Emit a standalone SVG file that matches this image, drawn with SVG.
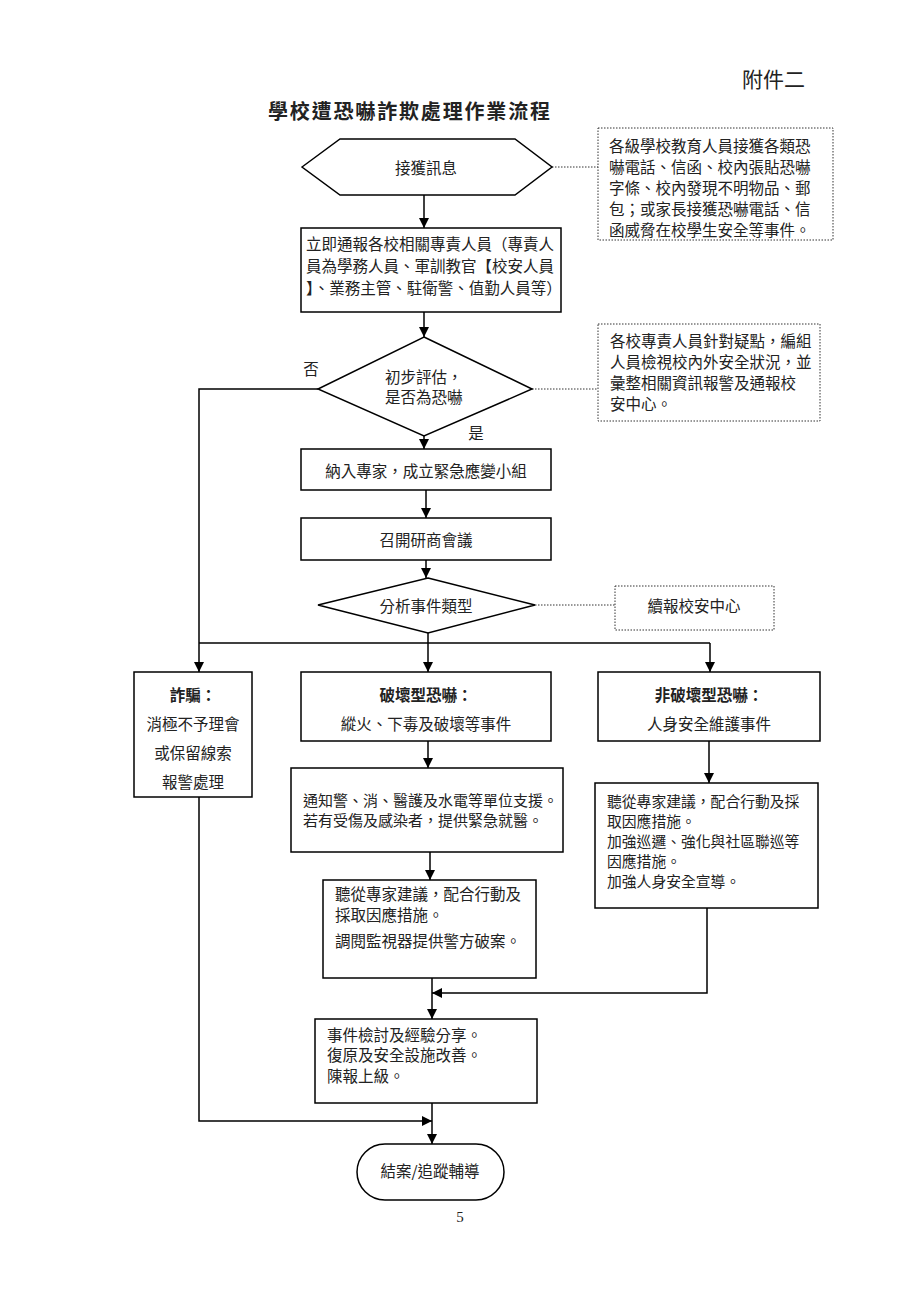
<svg xmlns="http://www.w3.org/2000/svg" width="920" height="1302" viewBox="0 0 920 1302">
<style>
text{font-family:"Noto Sans CJK TC","Noto Sans CJK SC",sans-serif;fill:#222;font-size:15.5px;dominant-baseline:central}
.c{text-anchor:middle}
.b{font-weight:bold}
.s{font-size:14.8px}
.box{fill:#fff;stroke:#000;stroke-width:1.5}
.note{fill:#fff;stroke:#333;stroke-width:1;stroke-dasharray:1.5 1.5}
.ln{fill:none;stroke:#000;stroke-width:1.5}
.dl{fill:none;stroke:#333;stroke-width:1;stroke-dasharray:1.5 1.5}
</style>
<defs>
<marker id="ah" viewBox="0 0 10 10" refX="10" refY="5" markerWidth="10" markerHeight="10" markerUnits="userSpaceOnUse" orient="auto">
<path d="M0,0 L10,5 L0,10 z" fill="#000"/>
</marker>
</defs>
<rect width="920" height="1302" fill="#fff"/>
<text x="805" y="78" style="font-size:21px;text-anchor:end">附件二</text>
<text x="268" y="110" class="b" style="font-size:20px" textLength="282" lengthAdjust="spacing">學校遭恐嚇詐欺處理作業流程</text>

<g id="connectors">
<line class="dl" x1="552" y1="167" x2="598" y2="167"/>
<line class="dl" x1="532" y1="389" x2="598" y2="389"/>
<line class="dl" x1="535" y1="605" x2="615" y2="605"/>
<line class="ln" x1="424" y1="195" x2="424" y2="228" marker-end="url(#ah)"/>
<line class="ln" x1="424" y1="312" x2="424" y2="337" marker-end="url(#ah)"/>
<line class="ln" x1="424" y1="436" x2="424" y2="449" marker-end="url(#ah)"/>
<polyline class="ln" points="318,389 199,389 199,643"/>
<line class="ln" x1="426" y1="490" x2="426" y2="518" marker-end="url(#ah)"/>
<line class="ln" x1="426" y1="560" x2="426" y2="578" marker-end="url(#ah)"/>
<line class="ln" x1="428" y1="633" x2="428" y2="643"/>
<line class="ln" x1="199" y1="643" x2="710" y2="643"/>
<line class="ln" x1="199" y1="643" x2="199" y2="672" marker-end="url(#ah)"/>
<line class="ln" x1="428" y1="643" x2="428" y2="672" marker-end="url(#ah)"/>
<line class="ln" x1="710" y1="643" x2="710" y2="672" marker-end="url(#ah)"/>
<polyline class="ln" points="199,797 199,1121 432,1121" marker-end="url(#ah)"/>
<line class="ln" x1="428" y1="741" x2="428" y2="768" marker-end="url(#ah)"/>
<line class="ln" x1="430" y1="852" x2="430" y2="880" marker-end="url(#ah)"/>
<line class="ln" x1="432" y1="978" x2="432" y2="1019" marker-end="url(#ah)"/>
<line class="ln" x1="709" y1="741" x2="709" y2="783" marker-end="url(#ah)"/>
<polyline class="ln" points="707,908 707,993 432,993" marker-end="url(#ah)"/>
<line class="ln" x1="432" y1="1103" x2="432" y2="1144" marker-end="url(#ah)"/>
</g>

<g id="n-receive">
<polygon class="box" points="302,167 340,139 515,139 552,167 515,195 340,195"/>
<text x="426" y="167" class="c">接獲訊息</text>
</g>
<g id="note1">
<rect class="note" x="598" y="128" width="235" height="112"/>
<text x="609" y="145">各級學校教育人員接獲各類恐</text>
<text x="609" y="166">嚇電話、信函、校內張貼恐嚇</text>
<text x="609" y="187">字條、校內發現不明物品、郵</text>
<text x="609" y="208">包；或家長接獲恐嚇電話、信</text>
<text x="609" y="229">函威脅在校學生安全等事件。</text>
</g>
<g id="n-notify">
<rect class="box" x="301" y="228" width="260" height="84"/>
<text x="306" y="243">立即通報各校相關專責人員（專責人</text>
<text x="306" y="265">員為學務人員、軍訓教官【校安人員</text>
<text x="306" y="287">】、業務主管、駐衛警、值勤人員等）</text>
</g>
<g id="n-assess">
<polygon class="box" points="424,337 532,389 424,436 318,389"/>
<text x="385" y="376">初步評估，</text>
<text x="385" y="396">是否為恐嚇</text>
<text x="311" y="368" class="c">否</text>
<text x="476" y="432" class="c">是</text>
</g>
<g id="note2">
<rect class="note" x="598" y="324" width="222" height="97"/>
<text x="610" y="340">各校專責人員針對疑點，編組</text>
<text x="610" y="361">人員檢視校內外安全狀況，並</text>
<text x="610" y="382">彙整相關資訊報警及通報校</text>
<text x="610" y="403">安中心。</text>
</g>
<g id="n-expert">
<rect class="box" x="301" y="449" width="250" height="41"/>
<text x="426" y="470" class="c">納入專家，成立緊急應變小組</text>
</g>
<g id="n-meeting">
<rect class="box" x="301" y="518" width="250" height="42"/>
<text x="426" y="539" class="c">召開研商會議</text>
</g>
<g id="n-analyze">
<polygon class="box" points="428,578 535,605 428,633 318,605"/>
<text x="426" y="605" class="c">分析事件類型</text>
</g>
<g id="note3">
<rect class="note" x="615" y="586" width="159" height="44"/>
<text x="694" y="605" class="c">續報校安中心</text>
</g>
<g id="n-fraud">
<rect class="box" x="134" y="672" width="118" height="125"/>
<text x="193" y="694" class="c b">詐騙：</text>
<text x="193" y="723" class="c">消極不予理會</text>
<text x="193" y="752" class="c">或保留線索</text>
<text x="193" y="781" class="c">報警處理</text>
</g>
<g id="n-destructive">
<rect class="box" x="301" y="672" width="250" height="69"/>
<text x="426" y="694" class="c b">破壞型恐嚇：</text>
<text x="426" y="723" class="c">縱火、下毒及破壞等事件</text>
</g>
<g id="n-nondestructive">
<rect class="box" x="598" y="672" width="222" height="69"/>
<text x="709" y="694" class="c b">非破壞型恐嚇：</text>
<text x="709" y="723" class="c">人身安全維護事件</text>
</g>
<g id="n-support">
<rect class="box" x="291" y="768" width="272" height="84"/>
<text x="303" y="799" style="font-size:15px">通知警、消、醫護及水電等單位支援。</text>
<text x="303" y="819" style="font-size:15px">若有受傷及感染者，提供緊急就醫。</text>
</g>
<g id="n-follow1">
<rect class="box" x="323" y="880" width="213" height="98"/>
<text x="335" y="893">聽從專家建議，配合行動及</text>
<text x="335" y="914">採取因應措施。</text>
<text x="335" y="940">調閱監視器提供警方破案。</text>
</g>
<g id="n-follow2">
<rect class="box" x="595" y="783" width="223" height="125"/>
<text x="607" y="800" class="s">聽從專家建議，配合行動及採</text>
<text x="607" y="820" class="s">取因應措施。</text>
<text x="607" y="840" class="s">加強巡邏、強化與社區聯巡等</text>
<text x="607" y="860" class="s">因應措施。</text>
<text x="607" y="880" class="s">加強人身安全宣導。</text>
</g>
<g id="n-review">
<rect class="box" x="315" y="1019" width="222" height="84"/>
<text x="327" y="1034">事件檢討及經驗分享。</text>
<text x="327" y="1054">復原及安全設施改善。</text>
<text x="327" y="1075">陳報上級。</text>
</g>
<g id="n-close">
<rect class="box" x="357" y="1144" width="147" height="56" rx="28" ry="28"/>
<text x="430" y="1170" class="c">結案/追蹤輔導</text>
</g>
<text x="460" y="1217" class="c" style="font-family:'Liberation Serif',serif;font-size:15px">5</text>
</svg>
